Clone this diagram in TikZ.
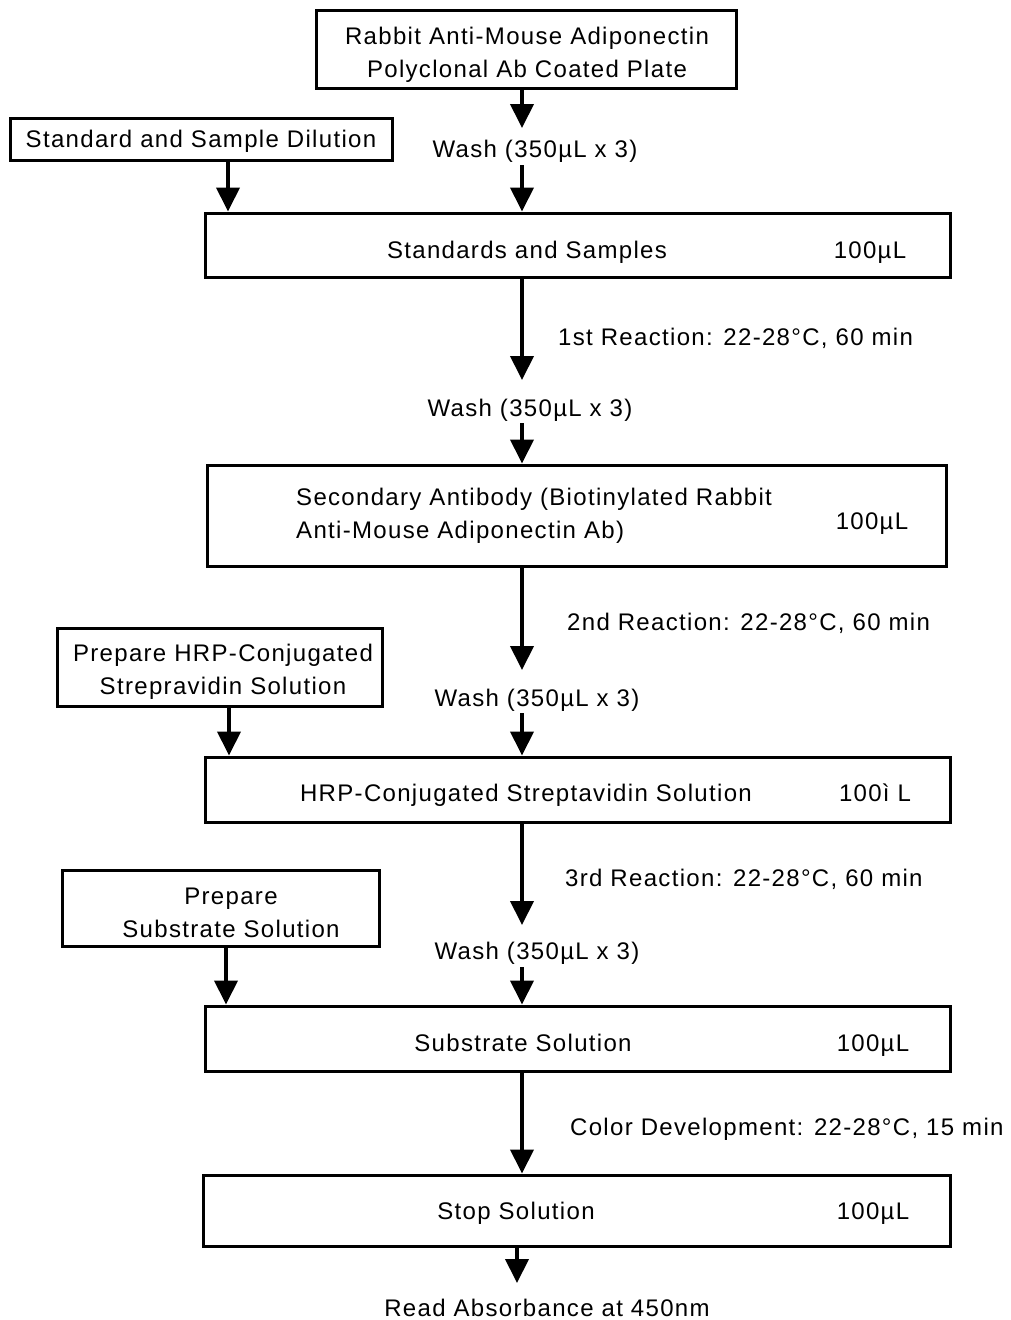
\documentclass[tikz,border=0pt]{standalone}
\usepackage{fontspec}
\setmainfont{Liberation Sans}[LetterSpace=5.5]
\usetikzlibrary{arrows.meta}
\begin{document}
\begin{tikzpicture}[x=1pt,y=-1pt,
  box/.style={draw, line width=3pt, inner sep=0pt},
  txt/.style={font=\fontsize{24}{33}\selectfont, inner sep=0pt},
  one/.style={txt, text height=17pt, text depth=0pt},
  arr/.style={line width=4pt, -{Triangle[length=24pt,width=23pt]}}]
\useasboundingbox (0,0) rectangle (1010,1320);
\fill[white] (0,0) rectangle (1010,1320);
% spine x-coordinates
\coordinate (sp) at (522,0);
\coordinate (sp5) at (517,0);
% boxes
\node[box, minimum width=420pt, minimum height=78pt] (title) at (526,49) {};
\node[box, one, minimum width=382pt, minimum height=42pt] (s1) at (201,139)
  {Standard and Sample Dilution};
\node[box, minimum width=745pt, minimum height=64pt] (b1) at (577.5,245) {};
\node[box, minimum width=739pt, minimum height=101pt] (b2) at (576.5,515.5) {};
\node[box, minimum width=325pt, minimum height=78pt] (s2) at (219.5,667) {};
\node[box, minimum width=745pt, minimum height=65pt] (b3) at (577.5,789.5) {};
\node[box, minimum width=317pt, minimum height=76pt] (s3) at (220.5,908) {};
\node[box, minimum width=745pt, minimum height=65pt] (b4) at (577.5,1038.5) {};
\node[box, minimum width=747pt, minimum height=71pt] (b5) at (576.5,1210.5) {};
% box texts
\node[txt, align=center] (tt) at (527,55) {Rabbit Anti-Mouse Adiponectin\\Polyclonal Ab Coated Plate};
\node[txt, align=center] (s2t) at (223,672) {Prepare HRP-Conjugated\\Strepravidin Solution};
\node[txt, align=center] (s3t) at (231,913) {Prepare\\Substrate Solution};
\node[one] (b1t) at (527,250) {Standards and Samples};
\node[one] (b1v) at (870,250) {100µL};
\node[txt, align=left, anchor=west] (b2t) at (296,516) {Secondary Antibody (Biotinylated Rabbit\\Anti-Mouse Adiponectin Ab)};
\node[one] (b2v) at (872,521) {100µL};
\node[one] (b3t) at (526,793) {HRP-Conjugated Streptavidin Solution};
\node[one] (b3v) at (875,793) {100ì L};
\node[one] (b4t) at (523,1043) {Substrate Solution};
\node[one] (b4v) at (873,1043) {100µL};
\node[one] (b5t) at (516,1211) {Stop Solution};
\node[one] (b5v) at (873,1211) {100µL};
% labels
\node[one] (w1) at (535,149) {Wash (350µL x 3)};
\node[one] (w2) at (530,408) {Wash (350µL x 3)};
\node[one] (w3) at (537,698) {Wash (350µL x 3)};
\node[one] (w4) at (537,951) {Wash (350µL x 3)};
\node[one, anchor=west] (r1) at (558,337) {1st Reaction: 22-28°C, 60 min};
\node[one, anchor=west] (r2) at (567,622) {2nd Reaction: 22-28°C, 60 min};
\node[one, anchor=west] (r3) at (565,878) {3rd Reaction: 22-28°C, 60 min};
\node[one, anchor=west] (r4) at (570,1127) {Color Development: 22-28°C, 15 min};
\node[one] (rd) at (547,1308) {Read Absorbance at 450nm};
% free ends
\coordinate (e1) at (522,128);
\coordinate (e2) at (522,380);
\coordinate (e3) at (522,670);
\coordinate (e4) at (522,925);
\coordinate (e5) at (517,1283);
\coordinate (w1s) at (522,165);
\coordinate (w2s) at (522,423);
\coordinate (w3s) at (522,713);
\coordinate (w4s) at (522,967);
% arrows
\draw[arr] (title.south -| sp) -- (e1);
\draw[arr] (w1s) -- (b1.north -| sp);
\draw[arr] (s1.south -| 228,0) -- (b1.north -| 228,0);
\draw[arr] (b1.south -| sp) -- (e2);
\draw[arr] (w2s) -- (b2.north -| sp);
\draw[arr] (b2.south -| sp) -- (e3);
\draw[arr] (s2.south -| 229,0) -- (b3.north -| 229,0);
\draw[arr] (w3s) -- (b3.north -| sp);
\draw[arr] (b3.south -| sp) -- (e4);
\draw[arr] (s3.south -| 226,0) -- (b4.north -| 226,0);
\draw[arr] (w4s) -- (b4.north -| sp);
\draw[arr] (b4.south -| sp) -- (b5.north -| sp);
\draw[arr] (b5.south -| sp5) -- (e5);
\end{tikzpicture}
\end{document}
